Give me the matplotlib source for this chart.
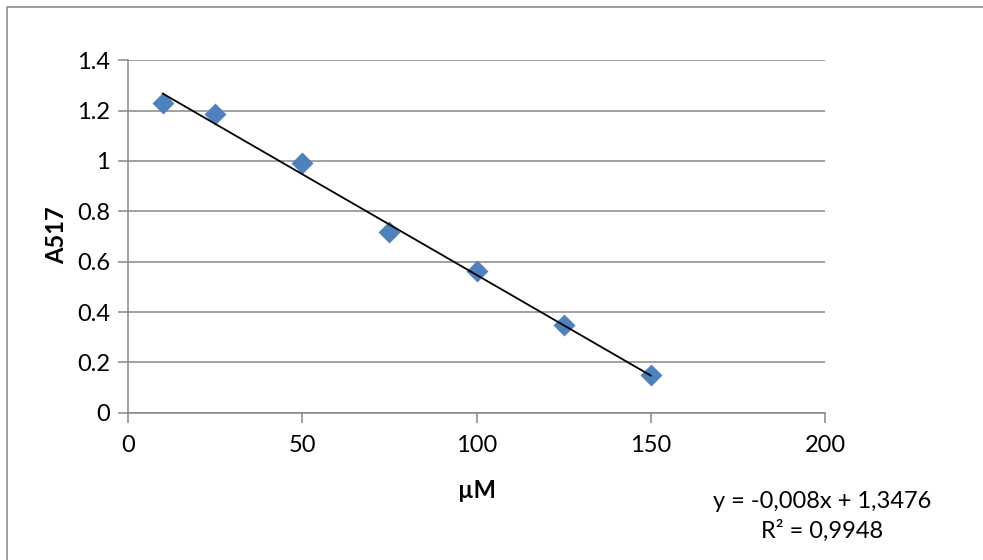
import numpy as np
import matplotlib.pyplot as plt
from matplotlib.lines import Line2D

#------------------------
# data
conc_uM = [10, 25, 50, 75, 100, 125, 150]
a517 = [1.229, 1.186, 0.991, 0.719, 0.564, 0.347, 0.150]

# trendline as printed on the chart
slope = -0.008
intercept = 1.3476
r2_text = "0,9948"

x_ticks = [0, 50, 100, 150, 200]
y_ticks = [0, 0.2, 0.4, 0.6, 0.8, 1.0, 1.2, 1.4]
y_tick_labels = ["0", "0.2", "0.4", "0.6", "0.8", "1", "1.2", "1.4"]

grid_col = "#878787"
plt.rcParams["font.family"] = ["Lato", "DejaVu Sans"]
fs = 17

W, H = 983, 560
fig = plt.figure(figsize=(W / 100, H / 100), dpi=100)
ax = fig.add_axes([128 / W, 1 - 412.7 / H, (825 - 128) / W, (412.7 - 60.3) / H])

# outer chart border (only top and left edges are in view)
bx, by = 7 / W, 1 - 7 / H
fig.lines.append(Line2D([bx, bx, 1.0], [0.0, by, by], transform=fig.transFigure,
                        color="#8c8c8c", linewidth=1.2))

ax.scatter(conc_uM, a517, marker="D", s=125, color="#4F81BD", zorder=3,
           linewidths=0)

xfit = np.array([min(conc_uM), max(conc_uM)])
ax.plot(xfit, slope * xfit + intercept, color="black", linewidth=1.3, zorder=4)

ax.set_xlim(0, 200)
ax.set_ylim(0, 1.4)
ax.set_xticks(x_ticks)
ax.set_yticks(y_ticks)
ax.set_yticklabels(y_tick_labels)

ax.yaxis.grid(True, color=grid_col, linewidth=1.1)
ax.set_axisbelow(True)
for s in ["top", "right"]:
    ax.spines[s].set_visible(False)
for s in ["left", "bottom"]:
    ax.spines[s].set_color(grid_col)
    ax.spines[s].set_linewidth(1.1)

ax.tick_params(axis="both", direction="out", length=7, width=1.1,
               color=grid_col, labelsize=fs)
ax.tick_params(axis="x", pad=9)
ax.tick_params(axis="y", pad=6)

fig.text(57 / W, 1 - 235 / H, "A517", rotation=90, fontsize=fs,
         fontweight="bold", ha="center", va="center")
fig.text(477 / W, 1 - 490 / H, "µM", fontsize=fs, fontweight="bold",
         ha="center", va="center")

fig.text(822 / W, 1 - 502 / H, "y = -0,008x + 1,3476", fontsize=fs,
         ha="center", va="center")
fig.text(822 / W, 1 - 531 / H, "R² = " + r2_text, fontsize=fs,
         ha="center", va="center")

fig.savefig("out.png", dpi=100)
